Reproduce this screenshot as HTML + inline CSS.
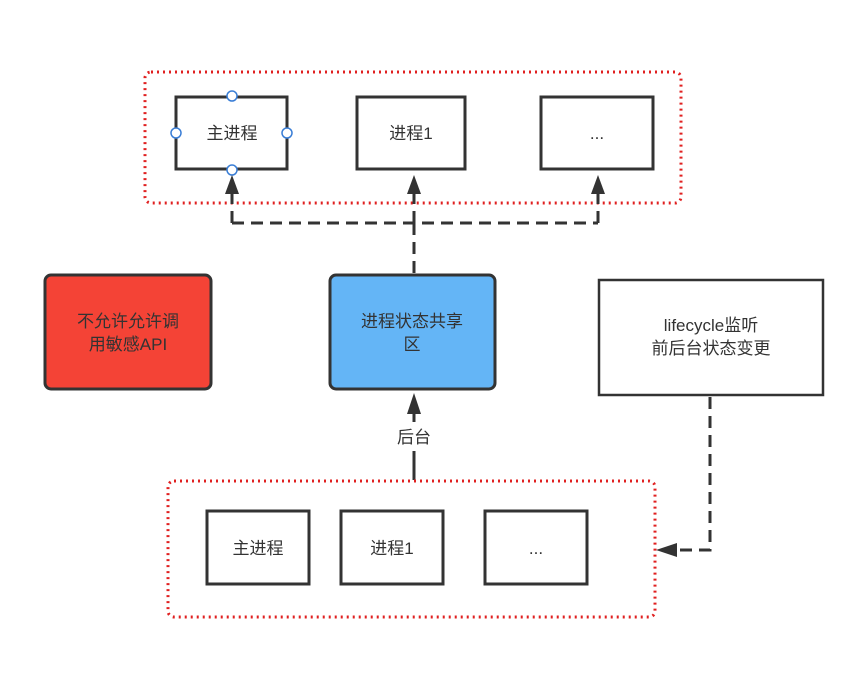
<!DOCTYPE html>
<html><head><meta charset="utf-8"><style>
body{margin:0;background:#fff;}
svg text{font-family:"Liberation Sans","Noto Sans CJK SC",sans-serif;fill:#333;}
</style></head><body>
<svg width="865" height="675" viewBox="0 0 865 675" xmlns="http://www.w3.org/2000/svg">
<defs>
<marker id="a" markerWidth="10" markerHeight="10" refX="9" refY="5" orient="auto" markerUnits="userSpaceOnUse" viewBox="0 0 10 10"><path d="M0,0 L10,5 L0,10 z" fill="#333"/></marker>
</defs>
<!-- top group -->
<rect x="145" y="72" width="536" height="131" rx="6" fill="none" stroke="#e02020" stroke-width="3" stroke-dasharray="2 4"/>
<g fill="#fff" stroke="#333" stroke-width="3">
<rect x="176" y="97" width="111" height="72"/>
<rect x="357" y="97" width="108" height="72"/>
<rect x="541" y="97" width="112" height="72"/>
</g>
<g fill="#fff" stroke="#3a7ed6" stroke-width="1.5">
<circle cx="232" cy="96" r="5"/><circle cx="232" cy="170" r="5"/>
<circle cx="176" cy="133" r="5"/><circle cx="287" cy="133" r="5"/>
</g>
<g font-size="17" text-anchor="middle">
<text x="232" y="139">主进程</text>
<text x="411" y="139">进程1</text>
<text x="597" y="139">...</text>
</g>
<g stroke="#333" stroke-width="3" fill="none" stroke-dasharray="12 7">
<path d="M414 273 V223 M232 223 H598"/>
<path d="M232 223 V193"/><path d="M414 223 V193"/><path d="M598 223 V193"/>
</g>
<g fill="#333">
<path d="M225 194 L232 175 L239 194 z"/>
<path d="M407 194 L414 175 L421 194 z"/>
<path d="M591 194 L598 175 L605 194 z"/>
</g>
<!-- middle -->
<rect x="45" y="275" width="166" height="114" rx="6" fill="#f44336" stroke="#333" stroke-width="3"/>
<text x="128" y="327" font-size="17" text-anchor="middle">不允许允许调</text>
<text x="128" y="350" font-size="17" text-anchor="middle">用敏感API</text>
<rect x="330" y="275" width="165" height="114" rx="6" fill="#64b5f6" stroke="#333" stroke-width="3"/>
<text x="412" y="327" font-size="17" text-anchor="middle">进程状态共享</text>
<text x="412" y="350" font-size="17" text-anchor="middle">区</text>
<rect x="599" y="280" width="224" height="115" fill="#fff" stroke="#333" stroke-width="2.5"/>
<text x="711" y="331" font-size="17" text-anchor="middle">lifecycle监听</text>
<text x="711" y="354" font-size="17" text-anchor="middle">前后台状态变更</text>
<!-- bottom connector -->
<path d="M414 480 V451 M414 422 V412" stroke="#333" stroke-width="3"/>
<path d="M407 414 L414 393 L421 414 z" fill="#333"/>
<text x="414" y="443" font-size="17" text-anchor="middle">后台</text>
<path d="M710 397 V550 H676" stroke="#333" stroke-width="3" fill="none" stroke-dasharray="12 7"/>
<path d="M677 543 L656 550 L677 557 z" fill="#333"/>
<!-- bottom group -->
<rect x="168" y="481" width="487" height="136" rx="6" fill="none" stroke="#e02020" stroke-width="3" stroke-dasharray="2 4"/>
<g fill="#fff" stroke="#333" stroke-width="3">
<rect x="207" y="511" width="102" height="73"/>
<rect x="341" y="511" width="102" height="73"/>
<rect x="485" y="511" width="102" height="73"/>
</g>
<g font-size="17" text-anchor="middle">
<text x="258" y="554">主进程</text>
<text x="392" y="554">进程1</text>
<text x="536" y="554">...</text>
</g>
</svg>
</body></html>
